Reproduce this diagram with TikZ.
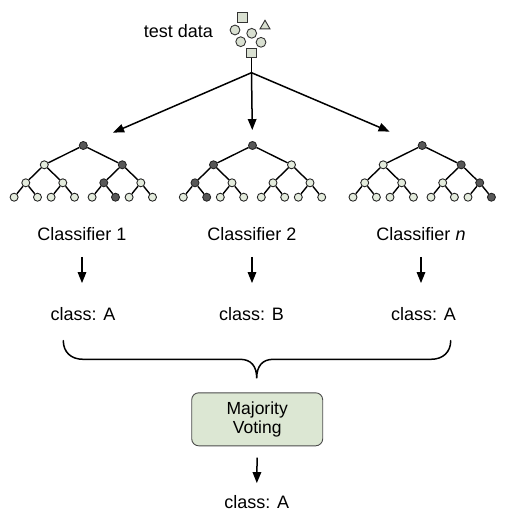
\documentclass[tikz,border=0pt]{standalone}
\usepackage{fontspec}
\setmainfont{Liberation Sans}
\usetikzlibrary{arrows.meta,shapes.geometric}
\definecolor{lgreen}{HTML}{E4ECDD}
\definecolor{boxgreen}{HTML}{DCE7D3}
\definecolor{shapefill}{HTML}{D9E0D1}
\definecolor{darknode}{HTML}{585858}
\begin{document}
\begin{tikzpicture}[x=1pt,y=-1pt,
  tn/.style={circle,draw=black!85,fill=lgreen,line width=0.9pt,inner sep=0pt,minimum size=8pt},
  dk/.style={tn,fill=darknode},
  treestyle/.style={
    level 1/.style={level distance=19.3pt,sibling distance=78pt},
    level 2/.style={level distance=18pt,sibling distance=37pt},
    level 3/.style={level distance=14.4pt,sibling distance=23.4pt},
    edge from parent/.style={draw,black,line width=1.4pt}},
  arr/.style={-{Triangle[length=11pt,width=8.5pt]},line width=1.5pt,black},
  lbl/.style={font=\fontsize{18}{20}\selectfont,inner sep=0pt,text height=13pt,text depth=4pt,anchor=base},
  shp/.style={draw=black!80,fill=shapefill,line width=0.9pt,inner sep=0pt},
  vbox/.style={draw=black!70,fill=boxgreen,rounded corners=7pt,line width=0.9pt,
    minimum width=131pt,minimum height=53pt,align=center,
    font=\fontsize{17.5}{19}\selectfont}]
\useasboundingbox (0,0) rectangle (515,524);

% test data
\node[lbl] (td) at (178.3,37.5) {test data};
\node[shp,rectangle,minimum size=9.5pt] (sq1) at (242.5,17.3) {};
\node[shp,regular polygon,regular polygon sides=3,minimum size=11.5pt] (tri) at (265,26) {};
\node[shp,circle,minimum size=9.8pt] (c1) at (235,30) {};
\node[shp,circle,minimum size=9.8pt] (c2) at (251.7,33.3) {};
\node[shp,circle,minimum size=9.8pt] (c3) at (240.7,41.7) {};
\node[shp,circle,minimum size=9.8pt] (c4) at (261,42.3) {};
\node[shp,rectangle,minimum size=9.8pt] (sq2) at (251.5,53) {};

% trees
\begin{scope}[treestyle]
\node[dk] (ta) at (83.3,145.5) {}
  child {node[tn] {}
    child {node[tn] {} child {node[tn] {}} child {node[tn] {}}}
    child {node[tn] {} child {node[tn] {}} child {node[tn] {}}}}
  child {node[dk] {}
    child {node[dk] {} child {node[tn] {}} child {node[dk] {}}}
    child {node[tn] {} child {node[tn] {}} child {node[tn] {}}}};
\node[dk] (tb) at (252.5,145.5) {}
  child {node[dk] {}
    child {node[dk] {} child {node[tn] {}} child {node[dk] {}}}
    child {node[tn] {} child {node[tn] {}} child {node[tn] {}}}}
  child {node[tn] {}
    child {node[tn] {} child {node[tn] {}} child {node[tn] {}}}
    child {node[tn] {} child {node[tn] {}} child {node[tn] {}}}};
\node[dk] (tc) at (422.2,145.5) {}
  child {node[tn] {}
    child {node[tn] {} child {node[tn] {}} child {node[tn] {}}}
    child {node[tn] {} child {node[tn] {}} child {node[tn] {}}}}
  child {node[dk] {}
    child {node[tn] {} child {node[tn] {}} child {node[tn] {}}}
    child {node[dk] {} child {node[tn] {}} child {node[dk] {}}}};
\end{scope}

% fork arrows
\coordinate (fork) at (251.5,72.7);
\draw[line width=1.5pt] (sq2.south) -- (fork);
\draw[arr,shorten >=28pt] (fork) -- (ta);
\draw[arr,shorten >=11pt] (fork) -- (tb);
\draw[arr,shorten >=31pt] (fork) -- (tc);

% classifiers
\node[lbl] (cl1) at (82,240) {Classifier 1};
\node[lbl] (cl2) at (252,240) {Classifier 2};
\node[lbl] (cl3) at (421,240) {Classifier \textit{n}};
\node[lbl] (r1) at (83,320) {class: A};
\node[lbl] (r2) at (251.5,320) {class: B};
\node[lbl] (r3) at (423.5,320) {class: A};
\foreach \i in {1,2,3}
  \draw[arr,shorten <=12.7pt,shorten >=23.7pt] (cl\i.south) -- (cl\i.south |- r\i.north);

% brace
\draw[line width=1.5pt,line cap=round]
  (63.3,340.7) .. controls (63.3,352) and (71,359.3) .. (83,359.3)
  -- (240,359.3) .. controls (251,359.3) and (256.7,366) .. (256.7,378.3)
  .. controls (256.7,366) and (262.4,359.3) .. (273.4,359.3)
  -- (431,359.3) .. controls (443,359.3) and (450.7,352) .. (450.7,340.7);

% majority voting
\node[vbox] (mv) at (257.2,419.3) {Majority\\Voting};
\node[lbl] (fin) at (256.7,508.3) {class: A};
\draw[arr,shorten <=11.3pt,shorten >=12pt] (mv.south) -- (fin.north);
\end{tikzpicture}
\end{document}
